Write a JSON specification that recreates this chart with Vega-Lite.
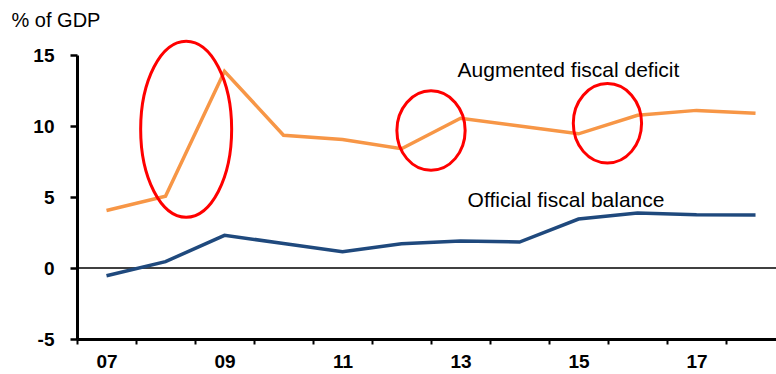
{
  "$schema": "https://vega.github.io/schema/vega-lite/v6.json",
  "width": 699,
  "height": 284,
  "autosize": {"type": "none"},
  "padding": {"left": 77, "top": 55, "right": 0, "bottom": 35},
  "background": "white",
  "config": {
    "view": {"stroke": null},
    "font": "Liberation Sans",
    "axis": {
      "grid": false,
      "domainColor": "black",
      "domainWidth": 3,
      "tickColor": "black",
      "tickWidth": 2.5,
      "labelFont": "Liberation Sans",
      "labelFontWeight": "bold",
      "labelFontSize": 19,
      "labelColor": "black"
    }
  },
  "datasets": {
    "fiscal": [
      {"year": 2007, "series": "Augmented fiscal deficit", "value": 4.05},
      {"year": 2008, "series": "Augmented fiscal deficit", "value": 5.05},
      {"year": 2009, "series": "Augmented fiscal deficit", "value": 13.85},
      {"year": 2010, "series": "Augmented fiscal deficit", "value": 9.35},
      {"year": 2011, "series": "Augmented fiscal deficit", "value": 9.05},
      {"year": 2012, "series": "Augmented fiscal deficit", "value": 8.4},
      {"year": 2013, "series": "Augmented fiscal deficit", "value": 10.55},
      {"year": 2014, "series": "Augmented fiscal deficit", "value": 10.0},
      {"year": 2015, "series": "Augmented fiscal deficit", "value": 9.45},
      {"year": 2016, "series": "Augmented fiscal deficit", "value": 10.75},
      {"year": 2017, "series": "Augmented fiscal deficit", "value": 11.1},
      {"year": 2018, "series": "Augmented fiscal deficit", "value": 10.9},
      {"year": 2007, "series": "Official fiscal balance", "value": -0.55},
      {"year": 2008, "series": "Official fiscal balance", "value": 0.45},
      {"year": 2009, "series": "Official fiscal balance", "value": 2.3},
      {"year": 2010, "series": "Official fiscal balance", "value": 1.73},
      {"year": 2011, "series": "Official fiscal balance", "value": 1.15},
      {"year": 2012, "series": "Official fiscal balance", "value": 1.7},
      {"year": 2013, "series": "Official fiscal balance", "value": 1.9},
      {"year": 2014, "series": "Official fiscal balance", "value": 1.83},
      {"year": 2015, "series": "Official fiscal balance", "value": 3.45},
      {"year": 2016, "series": "Official fiscal balance", "value": 3.87},
      {"year": 2017, "series": "Official fiscal balance", "value": 3.75},
      {"year": 2018, "series": "Official fiscal balance", "value": 3.73}
    ],
    "highlightTall": [
      {"year": 2008.35, "value": 9.77}
    ],
    "highlightRound": [
      {"year": 2012.5, "value": 9.68},
      {"year": 2015.49, "value": 10.19}
    ],
    "seriesLabels": [
      {"year": 2012.95, "value": 13.45, "label": "Augmented fiscal deficit"},
      {"year": 2013.12, "value": 4.3, "label": "Official fiscal balance"}
    ]
  },
  "encoding": {
    "x": {
      "field": "year",
      "type": "quantitative",
      "scale": {"domain": [2006.5, 2018.347], "nice": false, "zero": false},
      "axis": {
        "title": null,
        "values": [2006.5, 2007, 2007.5, 2008.5, 2009, 2009.5, 2010.5, 2011, 2011.5, 2012.5, 2013, 2013.5, 2014.5, 2015, 2015.5, 2016.5, 2017, 2017.5],
        "labelExpr": "datum.value % 1 === 0 ? slice(toString(datum.value), 2) : ''",
        "labelOverlap": false,
        "labelFlush": false,
        "labelBound": false,
        "tickSize": 5,
        "tickWidth": 2,
        "tickOpacity": {"condition": {"test": "datum.value % 1 === 0", "value": 0}, "value": 1},
        "labelPadding": 8
      }
    },
    "y": {
      "field": "value",
      "type": "quantitative",
      "scale": {"domain": [-5, 15], "nice": false, "zero": false},
      "axis": {
        "values": [-5, 0, 5, 10, 15],
        "labelExpr": "toString(datum.value)",
        "title": "% of GDP",
        "titleAngle": 0,
        "titleAlign": "left",
        "titleBaseline": "alphabetic",
        "titleX": -66,
        "titleY": -29,
        "titleFont": "Liberation Sans",
        "titleFontSize": 20,
        "titleFontWeight": "normal",
        "titleColor": "black",
        "tickSize": 7,
        "labelPadding": 16
      }
    }
  },
  "layer": [
    {
      "data": {"values": [{"value": 0}]},
      "mark": {"type": "rule", "color": "black", "strokeWidth": 1.5},
      "encoding": {
        "x": {"value": 0},
        "x2": {"value": 699},
        "y": {"field": "value", "type": "quantitative"}
      }
    },
    {
      "data": {"name": "fiscal"},
      "mark": {"type": "line", "strokeWidth": 3.5, "strokeJoin": "miter"},
      "encoding": {
        "color": {
          "field": "series",
          "type": "nominal",
          "scale": {"domain": ["Augmented fiscal deficit", "Official fiscal balance"], "range": ["#F79646", "#1F497D"]},
          "legend": null
        }
      }
    },
    {
      "data": {"name": "highlightTall"},
      "mark": {
        "type": "point",
        "filled": false,
        "color": "#FF0000",
        "strokeWidth": 3,
        "opacity": 1,
        "size": 30976,
        "shape": "M 0.517 0 C 0.517 0.5523 0.2855 1 0 1 C -0.2855 1 -0.517 0.5523 -0.517 0 C -0.517 -0.5523 -0.2855 -1 0 -1 C 0.2855 -1 0.517 -0.5523 0.517 0 Z"
      }
    },
    {
      "data": {"name": "highlightRound"},
      "mark": {
        "type": "point",
        "filled": false,
        "color": "#FF0000",
        "strokeWidth": 3,
        "opacity": 1,
        "size": 6304,
        "shape": "M 0.86 0 C 0.86 0.5523 0.475 1 0 1 C -0.475 1 -0.86 0.5523 -0.86 0 C -0.86 -0.5523 -0.475 -1 0 -1 C 0.475 -1 0.86 -0.5523 0.86 0 Z"
      }
    },
    {
      "data": {"name": "seriesLabels"},
      "mark": {
        "type": "text",
        "align": "left",
        "baseline": "alphabetic",
        "font": "Liberation Sans",
        "fontSize": 21,
        "color": "black"
      },
      "encoding": {
        "text": {"field": "label", "type": "nominal"}
      }
    }
  ]
}
